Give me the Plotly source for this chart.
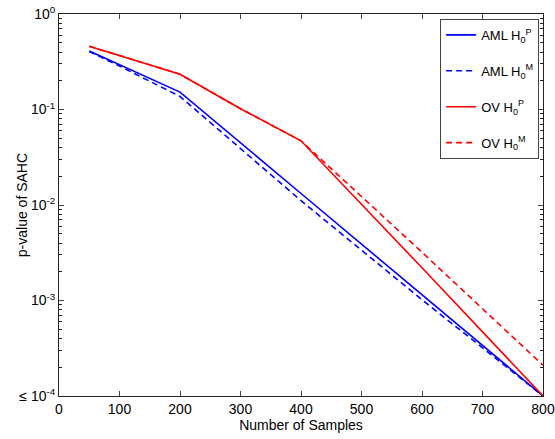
import plotly.graph_objects as go

# Number of samples (x) and p-values
aml_p_x = [50, 100, 200, 400, 600, 800]
aml_p_y = [0.41, 0.293, 0.152, 0.0132, 0.00115, 0.0001]

aml_m_x = [50, 100, 200, 400, 600, 800]
aml_m_y = [0.405, 0.285, 0.137, 0.0111, 0.00102, 0.0001]

ov_p_x = [50, 100, 200, 300, 400, 600, 800]
ov_p_y = [0.46, 0.367, 0.234, 0.102, 0.047, 0.0022, 0.0001]

ov_m_x = [50, 100, 200, 300, 400, 600, 800]
ov_m_y = [0.46, 0.367, 0.234, 0.102, 0.047, 0.0032, 0.00021]

x_ticks = [0, 100, 200, 300, 400, 500, 600, 700, 800]
y_tickvals = [1e-4, 1e-3, 1e-2, 1e-1, 1]
y_ticktext = ["≤ 10<sup>-4</sup>", "10<sup>-3</sup>", "10<sup>-2</sup>", "10<sup>-1</sup>", "10<sup>0</sup>"]
y_minor = [m * 10 ** e for e in range(-4, 0) for m in range(2, 10)]

FONT = "Liberation Sans, Arial, sans-serif"

fig = go.Figure()
series = [
    (aml_p_x, aml_p_y, "AML H<sub>0</sub><sup>P</sup>", "#0000ff", "solid"),
    (aml_m_x, aml_m_y, "AML H<sub>0</sub><sup>M</sup>", "#0000ff", "6px,4px"),
    (ov_p_x, ov_p_y, "OV H<sub>0</sub><sup>P</sup>", "#ff0000", "solid"),
    (ov_m_x, ov_m_y, "OV H<sub>0</sub><sup>M</sup>", "#ff0000", "6px,4px"),
]
for i, (xs, ys, name, col, dash) in enumerate(series):
    fig.add_trace(go.Scatter(x=xs, y=ys, mode="lines", name=name,
                             legendgroup=f"g{i}",
                             line=dict(color=col, width=1.6, dash=dash)))

fig.update_layout(
    width=555, height=439,
    margin=dict(l=59, r=12, t=14, b=43),
    paper_bgcolor="white", plot_bgcolor="white",
    font=dict(family=FONT, size=14, color="black"),
    showlegend=True,
    legend=dict(x=0.992, y=0.987, xanchor="right", yanchor="top",
                bordercolor="#444", borderwidth=1, bgcolor="white",
                tracegroupgap=16, font=dict(size=13),
                itemwidth=30),
    annotations=[dict(text="p-value of SAHC", xref="paper", yref="paper",
                      x=-0.076, y=0.5, xanchor="center", yanchor="middle",
                      textangle=-90, showarrow=False, font=dict(size=14))],
)
fig.update_xaxes(
    range=[0, 800], tickvals=x_ticks, ticks="inside", ticklen=5,
    showline=True, linecolor="#222", linewidth=1, mirror="ticks",
    showgrid=False, zeroline=False, automargin=False,
    title=dict(text="Number of Samples", standoff=1, font=dict(size=14)),
)
fig.update_yaxes(
    type="log", range=[-4, 0], tickvals=y_tickvals, ticktext=y_ticktext,
    ticks="inside", ticklen=5,
    minor=dict(tickvals=y_minor, ticks="inside", ticklen=3, tickcolor="#222"),
    showline=True, linecolor="#222", linewidth=1, mirror="ticks",
    showgrid=False, zeroline=False, automargin=False,
)
fig.write_html("out.html")
